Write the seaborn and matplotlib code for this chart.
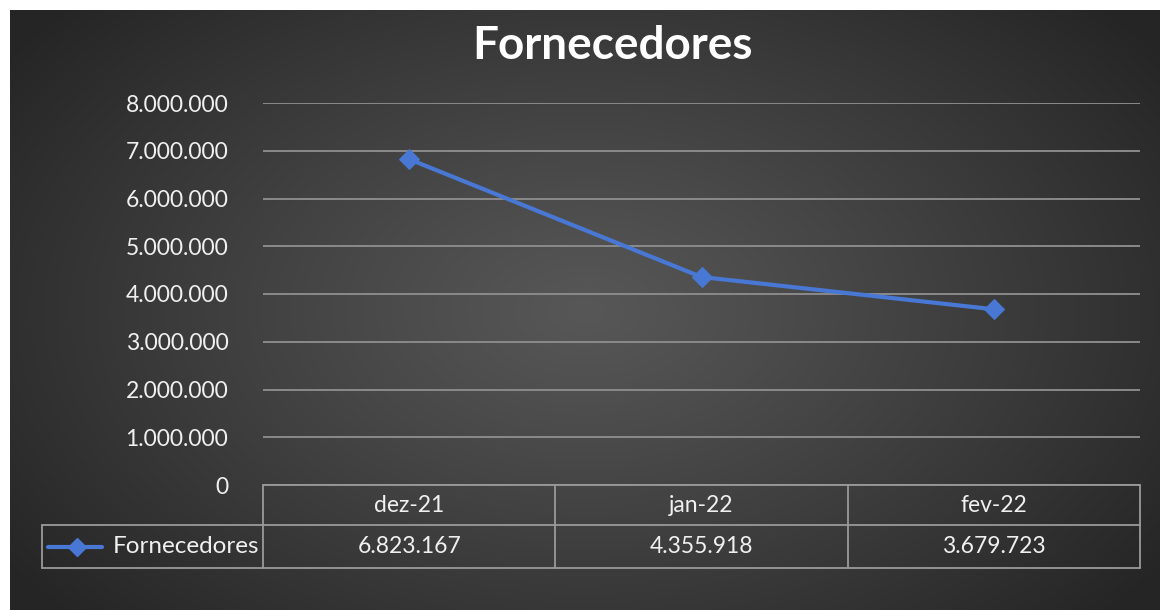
import numpy as np
import matplotlib
matplotlib.use("Agg")
import matplotlib.pyplot as plt
from matplotlib.lines import Line2D
import seaborn as sns

# dados do gráfico
categorias = ["dez-21", "jan-22", "fev-22"]
valores = [6823167, 4355918, 3679723]
serie = "Fornecedores"
titulo = "Fornecedores"
yticks = [0, 1000000, 2000000, 3000000, 4000000, 5000000, 6000000, 7000000, 8000000]

azul = "#4878D4"
grade = "#8a8a8a"
borda_tabela = "#9a9a9a"
texto = "#f0f0f0"


def fmt_br(v):
    return f"{int(v):,}".replace(",", ".")


sns.set_theme(style="dark")
plt.rcParams["font.family"] = ["Lato", "DejaVu Sans"]

fig = plt.figure(figsize=(11.6, 6.1), dpi=100)
fig.patch.set_facecolor("white")

# fundo com gradiente radial (estilo Excel escuro)
bg = fig.add_axes([10 / 1160, 0, 1150 / 1160, 600 / 610])
h, w = 300, 575
yy, xx = np.mgrid[0:h, 0:w]
cx, cy = 0.50 * w, 0.50 * h
r = np.sqrt(((xx - cx) / (0.62 * w)) ** 2 + ((yy - cy) / (0.75 * h)) ** 2)
r = np.clip(r, 0, 1)
c0, c1 = 0x57 / 255, 0x25 / 255
grad = c0 + (c1 - c0) * r ** 1.1
bg.imshow(np.dstack([grad, grad, grad]), aspect="auto", extent=[0, 1, 0, 1])
bg.set_axis_off()

# área de plotagem
ax = fig.add_axes([263 / 1160, (610 - 485) / 610, 877 / 1160, 382 / 610])
ax.set_facecolor("none")

sns.lineplot(x=categorias, y=valores, ax=ax, color=azul, linewidth=3,
             marker="D", markersize=10, markeredgecolor=azul, sort=False, zorder=3)

ax.set_xlim(-0.5, len(categorias) - 0.5)
ax.set_ylim(0, 8000000)
ax.set_yticks(yticks)
ax.set_yticklabels([fmt_br(v) for v in yticks], color=texto, fontsize=16.5)
ax.tick_params(axis="y", length=0, pad=25)
ax.tick_params(axis="x", length=0, labelbottom=False)
ax.set_xlabel("")
ax.set_ylabel("")
ax.grid(axis="y", color=grade, linewidth=1.4)
ax.grid(axis="x", visible=False)
for s in ax.spines.values():
    s.set_visible(False)

# tabela de dados abaixo do eixo
trans = ax.transAxes
n = len(categorias)
y_top, y_mid, y_bot = 0.0, -40 / 382, -83 / 382
x_leg = (42 - 263) / 877
lk = dict(color=borda_tabela, linewidth=1.3, transform=trans, clip_on=False)
ax.add_line(Line2D([0, 1], [y_top, y_top], **lk))
ax.add_line(Line2D([x_leg, 1], [y_mid, y_mid], **lk))
ax.add_line(Line2D([x_leg, 1], [y_bot, y_bot], **lk))
ax.add_line(Line2D([x_leg, x_leg], [y_mid, y_bot], **lk))
for i in range(n + 1):
    ax.add_line(Line2D([i / n, i / n], [y_top, y_bot], **lk))

for i, (cat, val) in enumerate(zip(categorias, valores)):
    xc = (i + 0.5) / n
    ax.text(xc, (y_top + y_mid) / 2, cat, transform=trans, ha="center",
            va="center", color=texto, fontsize=16.5)
    ax.text(xc, (y_mid + y_bot) / 2, fmt_br(val), transform=trans,
            ha="center", va="center", color=texto, fontsize=16.5)

# legenda dentro da tabela
yl = (y_mid + y_bot) / 2
ax.add_line(Line2D([x_leg + 6 / 877, x_leg + 60 / 877], [yl, yl], color=azul,
                   linewidth=3, transform=trans, clip_on=False))
ax.add_line(Line2D([x_leg + 35 / 877], [yl], color=azul, marker="D",
                   markersize=9, linestyle="none", transform=trans, clip_on=False))
ax.text(-4 / 877, yl, serie, transform=trans, ha="right", va="center",
        color=texto, fontsize=17.5)

fig.text(612 / 1160, 1 - 46 / 610, titulo, ha="center", va="center",
         color="white", fontsize=33, fontweight="bold")

fig.savefig("out.png", dpi=100, facecolor=fig.get_facecolor())
